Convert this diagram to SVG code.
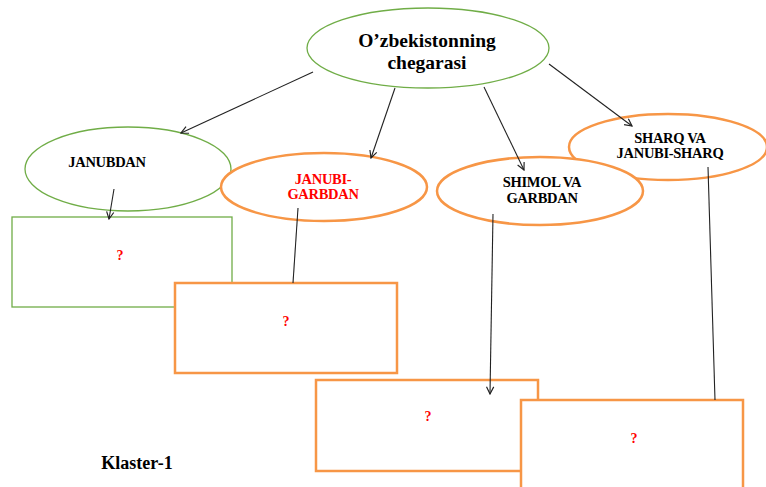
<svg xmlns="http://www.w3.org/2000/svg" width="766" height="487" viewBox="0 0 766 487">
<style>
.g{fill:#fff;stroke:#70AD47;stroke-width:1.3}
.o{fill:#fff;stroke:#F79646;stroke-width:2.5}
text{font-family:"Liberation Serif","Times New Roman",serif;font-weight:bold;text-anchor:middle}
.t{font-size:14.5px;fill:#000;letter-spacing:-0.3px}
.r{fill:#FF0000}
.q{font-size:14px;fill:#FF0000}
.c{stroke:#222;stroke-width:1.1;fill:none}
</style>
<defs>
<marker id="a" viewBox="0 0 10 10" refX="9" refY="5" markerWidth="9" markerHeight="9" markerUnits="userSpaceOnUse" orient="auto">
<path d="M1,1 L9,5 L1,9" fill="none" stroke="#222" stroke-width="1.3"/>
</marker>
</defs>
<rect width="766" height="487" fill="#fff"/>
<g id="box-janubdan"><rect class="g" x="12" y="217" width="220" height="90"/><text class="q" x="120" y="260">?</text></g>
<g id="box-janubi-garbdan"><rect class="o" x="175" y="283" width="222" height="90"/><text class="q" x="286" y="326">?</text></g>
<g id="box-shimol"><rect class="o" x="316" y="380" width="222" height="91"/><text class="q" x="428" y="421">?</text></g>
<g id="box-sharq"><rect class="o" x="521" y="400" width="222" height="100"/><text class="q" x="634" y="443">?</text></g>
<g id="root"><ellipse class="g" cx="428" cy="48" rx="121" ry="40"/><text x="427" y="47" font-size="19.5">O’zbekistonning</text><text x="427" y="69" font-size="19.5">chegarasi</text></g>
<g id="janubdan"><ellipse class="g" cx="128" cy="169" rx="103" ry="42"/><text class="t" x="107" y="167">JANUBDAN</text></g>
<g id="janubi-garbdan"><ellipse class="o" cx="324" cy="187" rx="103" ry="34"/><text class="t r" x="323" y="184">JANUBI-</text><text class="t r" x="323" y="199">GARBDAN</text></g>
<g id="sharq"><ellipse class="o" cx="668" cy="147" rx="99" ry="33"/><text class="t" x="670" y="143">SHARQ VA</text><text class="t" x="670" y="158">JANUBI-SHARQ</text></g>
<g id="shimol"><ellipse class="o" cx="540" cy="191" rx="103" ry="34"/><text class="t" x="542" y="187">SHIMOL VA</text><text class="t" x="542" y="203">GARBDAN</text></g>
<g id="connectors">
<line class="c" x1="313" y1="72" x2="181" y2="133" marker-end="url(#a)"/>
<line class="c" x1="395" y1="88" x2="371" y2="158" marker-end="url(#a)"/>
<line class="c" x1="484" y1="87" x2="524" y2="170" marker-end="url(#a)"/>
<line class="c" x1="549" y1="64" x2="632" y2="126" marker-end="url(#a)"/>
<line class="c" x1="114" y1="189" x2="109" y2="219" marker-end="url(#a)"/>
<line class="c" x1="298" y1="208" x2="293" y2="283"/>
<line class="c" x1="493" y1="214" x2="490" y2="394" marker-end="url(#a)"/>
<line class="c" x1="708" y1="167" x2="715" y2="400"/>
</g>
<text x="137" y="469" font-size="18">Klaster-1</text>
</svg>
